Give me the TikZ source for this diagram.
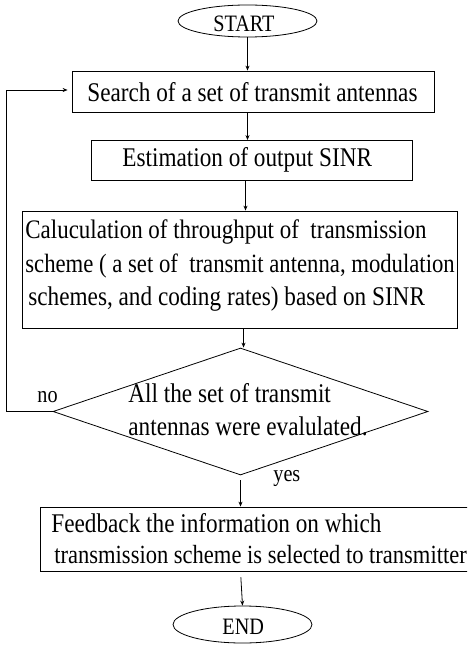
\documentclass[tikz,border=0pt]{standalone}
\usepackage{fontspec}
\setmainfont{Liberation Serif}[FakeStretch=0.86]
\usetikzlibrary{shapes.geometric,arrows.meta}
\begin{document}
\begin{tikzpicture}[x=1pt,y=-1pt,
  line width=0.8pt,
  box/.style={draw, rectangle, inner sep=0pt},
  oval/.style={draw, ellipse, inner sep=0pt},
  txt/.style={anchor=base west, inner sep=0pt, font=\fontsize{27}{34}\selectfont},
  small/.style={anchor=base west, inner sep=0pt, font=\fontsize{23.5}{28}\selectfont},
  arr/.style={-{Stealth[length=5pt,width=4pt]}}]
\clip (0,0) rectangle (467,647);
% shapes
\node[oval, minimum width=139pt, minimum height=32pt] (start) at (247.5,21) {};
\node[box, minimum width=362pt, minimum height=41pt] (search) at (253,91.5) {};
\node[box, minimum width=321pt, minimum height=40pt] (est) at (251.5,160.5) {};
\node[box, minimum width=435pt, minimum height=117pt] (calc) at (239.5,269.5) {};
\node[draw, diamond, inner sep=0pt, minimum width=375pt, minimum height=127pt] (dia) at (240.5,411.5) {};
\node[box, minimum width=440pt, minimum height=64pt] (fb) at (260,539) {};
\node[oval, minimum width=139pt, minimum height=37pt] (end) at (242.5,624.5) {};
% texts
\node[small] (starttxt) at (213,32) {START};
\node[txt] (searchtxt) at (87,102) {Search of a set of transmit antennas};
\node[txt] (esttxt) at (122,167) {Estimation of output SINR};
\node[txt, font=\fontsize{26.7}{34}\selectfont] (calc1) at (25,238) {Caluculation of throughput of\ \ transmission};
\node[txt, font=\fontsize{26.4}{34}\selectfont] (calc2) at (25,272) {scheme ( a set of\ \ transmit antenna, modulation};
\node[txt] (calc3) at (28,305) {schemes, and coding rates) based on SINR};
\node[txt] (dia1) at (128,402) {All the set of transmit};
\node[txt] (dia2) at (128,435) {antennas were evalulated.};
\node[small] (no) at (37,402) {no};
\node[small] (yes) at (273,481) {yes};
\node[txt] (fb1) at (51,532) {Feedback the information on which};
\node[txt, font=\fontsize{26.2}{34}\selectfont] (fb2) at (54,563) {transmission scheme is selected to transmitter};
\node[small] (endtxt) at (222,634) {END};
% connectors
\draw[arr] (start.south) -- (start.south |- search.north);
\draw[arr] (start.south |- search.south) -- (start.south |- est.north);
\draw[arr] ([xshift=-2pt]start.south |- est.south) -- ([xshift=-2pt]start.south |- calc.north);
\draw[arr] ([xshift=3pt]dia.north |- calc.south) -- ([xshift=3pt]dia.north);
\draw[arr] ([yshift=-5pt]dia.south) -- (dia.south |- fb.north);
\draw[arr, shorten <=6pt] (fb.south -| dia.south) -- (end.north);
\draw[arr] (dia.west) -- ++(-46,0) |- ([xshift=-4pt,yshift=1.5pt]search.west);
\end{tikzpicture}
\end{document}
